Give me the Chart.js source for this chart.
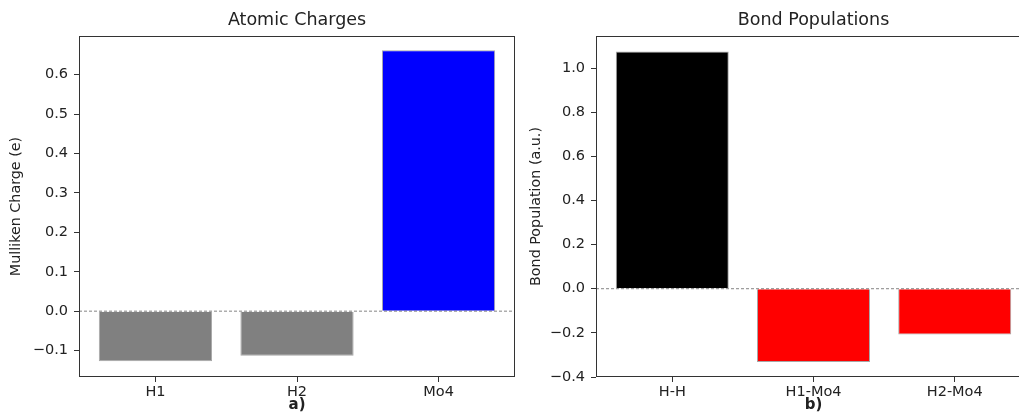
<!DOCTYPE html>
<html>
<head>
<meta charset="utf-8">
<script src="https://cdn.jsdelivr.net/npm/chart.js@4.4.1/dist/chart.umd.min.js"></script>
<style>
  html, body { margin: 0; padding: 0; background: #fff; overflow: hidden; width: 1019px; height: 418px; }
  canvas { position: absolute; top: 0; }
</style>
</head>
<body>
<canvas id="left" width="520" height="418" style="left:0"></canvas>
<canvas id="right" width="520" height="418" style="left:520px"></canvas>
<script>
// atomic charges (panel a)
const atomLabels = ['H1', 'H2', 'Mo4'];
const atomCharges = [-0.127, -0.113, 0.662];
const atomColors = ['#808080', '#808080', '#0000ff'];

// bond populations (panel b)
const bondLabels = ['H-H', 'H1-Mo4', 'H2-Mo4'];
const bondPops = [1.075, -0.332, -0.208];
const bondColors = ['#000000', '#ff0000', '#ff0000'];

const FONT = 'DejaVu Sans, sans-serif';
const INK = '#222';

function fmt(v) {
  if (Math.abs(v) < 1e-9) v = 0;
  const s = v.toFixed(1);
  return s.replace('-', '\u2212');
}

// frame, zero line, title and panel tag
const decor = {
  id: 'decor',
  afterDatasetsDraw(chart, args, opts) {
    const { ctx, chartArea: a, scales } = chart;
    const y0 = scales.y.getPixelForValue(0);
    ctx.save();
    ctx.strokeStyle = '#666';
    ctx.lineWidth = 0.8;
    ctx.setLineDash([3, 2]);
    ctx.beginPath();
    ctx.moveTo(a.left, y0);
    ctx.lineTo(a.right, y0);
    ctx.stroke();
    ctx.setLineDash([]);
    ctx.strokeStyle = '#333';
    ctx.lineWidth = 1;
    ctx.strokeRect(a.left + 0.5, a.top + 0.5, a.right - a.left - 1, a.bottom - a.top - 1);
    const cx = (a.left + a.right) / 2;
    ctx.fillStyle = INK;
    ctx.textAlign = 'center';
    ctx.textBaseline = 'middle';
    ctx.font = '17.5px ' + FONT;
    ctx.fillText(opts.title, cx, 20);
    ctx.font = 'bold 15px ' + FONT;
    ctx.fillText(opts.tag, cx, 405);
    ctx.restore();
  }
};

function makeChart(id, labels, values, colors, yOpts) {
  return new Chart(document.getElementById(id), {
    type: 'bar',
    data: {
      datasets: [{
        data: values.map((v, i) => ({ x: i, y: v })),
        backgroundColor: colors,
        borderColor: 'rgba(0,0,0,0.35)',
        borderWidth: 1,
        categoryPercentage: 1,
        barPercentage: 0.8
      }]
    },
    options: {
      responsive: false,
      animation: false,
      devicePixelRatio: 1,
      layout: { padding: { left: 0, top: 36, right: yOpts.padRight, bottom: 0 } },
      plugins: {
        legend: { display: false },
        tooltip: { enabled: false },
        decor: { title: yOpts.title, tag: yOpts.tag }
      },
      scales: {
        x: {
          type: 'linear',
          offset: false,
          min: -0.54, max: 2.54,
          afterBuildTicks: s => { s.ticks = labels.map((l, i) => ({ value: i })); },
          afterFit: s => { s.height = 41; },
          grid: { display: true, drawOnChartArea: false, offset: false, tickLength: 5, tickColor: '#333' },
          border: { display: false },
          ticks: { color: INK, font: { family: FONT, size: 14.5 }, padding: 2, maxRotation: 0, callback: v => labels[v] }
        },
        y: {
          min: yOpts.min, max: yOpts.max,
          afterFit: s => { s.width = yOpts.width; },
          grid: { display: true, drawOnChartArea: false, tickLength: 5, tickColor: '#333' },
          border: { display: false },
          ticks: { color: INK, font: { family: FONT, size: 14.5 }, padding: 6, stepSize: yOpts.step, includeBounds: false, callback: v => fmt(v) },
          title: { display: true, text: yOpts.label, color: INK, font: { family: FONT, size: 14.3 }, padding: { top: 8, bottom: 0 } }
        }
      }
    },
    plugins: [decor]
  });
}

makeChart('left', atomLabels, atomCharges, atomColors, {
  min: -0.167, max: 0.698, step: 0.1, width: 79, padRight: 5,
  label: 'Mulliken Charge (e)', title: 'Atomic Charges', tag: 'a)'
});

makeChart('right', bondLabels, bondPops, bondColors, {
  min: -0.4, max: 1.145, step: 0.2, width: 76, padRight: 9,
  label: 'Bond Population (a.u.)', title: 'Bond Populations', tag: 'b)'
});
</script>
</body>
</html>
